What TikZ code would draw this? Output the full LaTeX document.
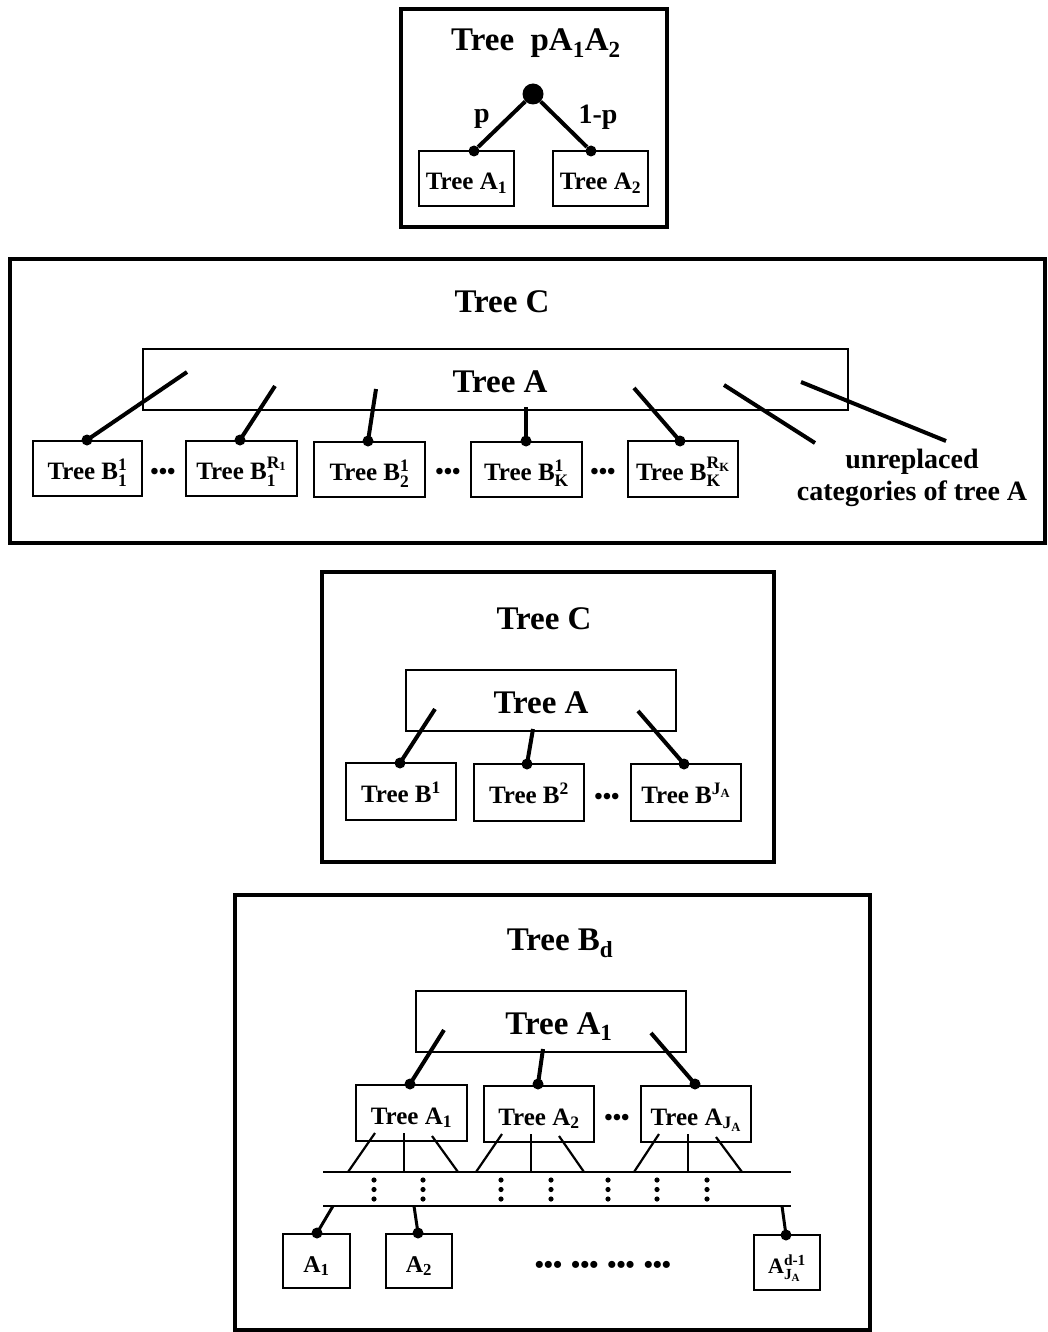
\documentclass[tikz,border=0pt]{standalone}
\usepackage{amsmath}
\usepackage{fontspec}
\setmainfont{Liberation Serif}
\begin{document}
\begin{tikzpicture}[x=1pt,y=-1pt,
  frame/.style={draw, line width=3.5pt},
  bigbox/.style={draw, line width=1.6pt, inner sep=0pt, text height=27pt, text depth=2pt, font=\bfseries\fontsize{33}{36}\selectfont},
  smallbox/.style={draw, line width=1.8pt, inner sep=0pt, text height=23pt, text depth=1pt, font=\bfseries\fontsize{25}{28}\selectfont},
  conn/.style={line width=4pt},
  thin/.style={line width=2.2pt},
  dot/.style={circle, fill, inner sep=0pt, minimum size=11pt},
  title/.style={inner sep=0pt, text height=27pt, text depth=2pt, font=\bfseries\fontsize{33}{36}\selectfont},
  lab/.style={inner sep=0pt, text height=20pt, text depth=4pt, font=\bfseries\fontsize{28}{32}\selectfont},
  ell/.style={font=\bfseries\fontsize{24}{26}\selectfont, inner sep=0pt, yshift=-4pt}]
\useasboundingbox (0,0) rectangle (1047,1332);

% ---------- Panel 1 ----------
\draw[frame] (401,9) rectangle (667,227);
\node[title] (t1) at (536,38) {Tree\hspace{0.5em}pA\textsubscript{1}A\textsubscript{2}};
\node[smallbox, minimum width=95pt, minimum height=55pt] (pa1) at (466.5,178.5) {Tree A\textsubscript{1}};
\node[smallbox, minimum width=95pt, minimum height=55pt] (pa2) at (600.5,178.5) {Tree A\textsubscript{2}};
\node[circle, fill, inner sep=0pt, minimum size=21pt] (root) at (533,94) {};
\node[dot] (pd1) at (474,151) {};
\node[dot] (pd2) at (591,151) {};
\draw[conn] (root) -- (pd1);
\draw[conn] (root) -- (pd2);
\node[lab] (lp) at (482,115) {p};
\node[lab] (lq) at (598,116) {1-p};

% ---------- Panel 2 ----------
\draw[frame] (10,259) rectangle (1045,543);
\node[title] (t2) at (502,300) {Tree C};
\node[bigbox, minimum width=705pt, minimum height=61pt] (ta2) at (495.5,379.5) {\hspace{9pt}Tree A};
\node[smallbox, minimum width=109pt, minimum height=55pt] (b1) at (87.5,468.5) {Tree B$^{\text{1}}_{\text{1}}$};
\node[smallbox, minimum width=111pt, minimum height=55pt] (b2) at (241.5,468.5) {Tree B$^{\text{R}_{\text{1}}}_{\text{1}}$};
\node[smallbox, minimum width=111pt, minimum height=55pt] (b3) at (369.5,469.5) {Tree B$^{\text{1}}_{\text{2}}$};
\node[smallbox, minimum width=111pt, minimum height=55pt] (b4) at (526.5,469.5) {Tree B$^{\text{1}}_{\text{K}}$};
\node[smallbox, minimum width=110pt, minimum height=56pt] (b5) at (683,469) {Tree B$^{\text{R}_{\text{K}}}_{\text{K}}$};
\node[ell] (e21) at (163,470) {\textbullet\textbullet\textbullet};
\node[ell] (e22) at (448,470) {\textbullet\textbullet\textbullet};
\node[ell] (e23) at (603,470) {\textbullet\textbullet\textbullet};
\node[dot] (bd1) at (87,440) {};
\node[dot] (bd2) at (240,440) {};
\node[dot] (bd3) at (368,441) {};
\node[dot] (bd4) at (526,441) {};
\node[dot] (bd5) at (680,441) {};
\coordinate (bs1) at (187,372);
\coordinate (bs2) at (275,386);
\coordinate (bs3) at (376,389);
\coordinate (bs4) at (526,407);
\coordinate (bs5) at (634,388);
\draw[conn] (bs1) -- (bd1.center);
\draw[conn] (bs2) -- (bd2.center);
\draw[conn] (bs3) -- (bd3.center);
\draw[conn] (bs4) -- (bd4.center);
\draw[conn] (bs5) -- (bd5.center);
\coordinate (us1) at (724,385);
\coordinate (ue1) at (815,443);
\coordinate (us2) at (801,382);
\coordinate (ue2) at (946,441);
\draw[conn] (us1) -- (ue1);
\draw[conn] (us2) -- (ue2);
\node[font=\bfseries\fontsize{28}{32}\selectfont, align=center] (unr) at (912,478) {unreplaced\\categories of tree A};

% ---------- Panel 3 ----------
\draw[frame] (322,572) rectangle (774,862);
\node[title] (t3) at (544,617) {Tree C};
\node[bigbox, minimum width=270pt, minimum height=61pt] (ta3) at (541,700.5) {Tree A};
\node[smallbox, minimum width=110pt, minimum height=57pt] (c1) at (401,791.5) {Tree B\textsuperscript{1}};
\node[smallbox, minimum width=110pt, minimum height=57pt] (c2) at (529,792.5) {Tree B\textsuperscript{2}};
\node[smallbox, minimum width=110pt, minimum height=57pt] (c3) at (686,792.5) {Tree B$^{\text{J}_{\text{A}}}$};
\node[ell] (e31) at (607,795) {\textbullet\textbullet\textbullet};
\node[dot] (cd1) at (400,763) {};
\node[dot] (cd2) at (527,764) {};
\node[dot] (cd3) at (684,764) {};
\coordinate (cs1) at (435,709);
\coordinate (cs2) at (533,729);
\coordinate (cs3) at (638,711);
\draw[conn] (cs1) -- (cd1.center);
\draw[conn] (cs2) -- (cd2.center);
\draw[conn] (cs3) -- (cd3.center);

% ---------- Panel 4 ----------
\draw[frame] (235,895) rectangle (870,1330);
\node[title] (t4) at (560,938) {Tree B\textsubscript{d}};
\node[bigbox, minimum width=270pt, minimum height=61pt] (ta4) at (551,1021.5) {\hspace{16pt}Tree A\textsubscript{1}};
\node[smallbox, minimum width=111pt, minimum height=56pt] (m1) at (411.5,1113) {Tree A\textsubscript{1}};
\node[smallbox, minimum width=110pt, minimum height=56pt] (m2) at (539,1114) {Tree A\textsubscript{2}};
\node[smallbox, minimum width=110pt, minimum height=56pt] (m3) at (696,1114) {Tree A$_{\text{J}_{\text{A}}}$};
\node[ell] (e41) at (617,1116) {\textbullet\textbullet\textbullet};
\node[dot] (md1) at (410,1084) {};
\node[dot] (md2) at (538,1084) {};
\node[dot] (md3) at (695,1084) {};
\coordinate (ms1) at (444,1030);
\coordinate (ms2) at (543,1049);
\coordinate (ms3) at (651,1033);
\draw[conn] (ms1) -- (md1.center);
\draw[conn] (ms2) -- (md2.center);
\draw[conn] (ms3) -- (md3.center);
% level lines
\coordinate (l1a) at (323,1172);
\coordinate (l1b) at (791,1172);
\coordinate (l2a) at (323,1206);
\coordinate (l2b) at (791,1206);
\draw[thin] (l1a) -- (l1b);
\draw[thin] (l2a) -- (l2b);
% branches
\draw[thin] (375,1133) -- (348,1172);
\draw[thin] (404,1133) -- (404,1172);
\draw[thin] (432,1136) -- (458,1172);
\draw[thin] (502,1134) -- (476,1172);
\draw[thin] (531,1134) -- (531,1172);
\draw[thin] (559,1136) -- (584,1172);
\draw[thin] (659,1134) -- (634,1172);
\draw[thin] (688,1134) -- (688,1172);
\draw[thin] (716,1137) -- (742,1172);
% vertical dots
\foreach \xx in {374,423,501,551,608,657,707}
  \foreach \yy in {1180,1189.5,1199}
    \fill (\xx,\yy) circle (2.6);
% bottom boxes
\node[smallbox, minimum width=67pt, minimum height=54pt, font=\bfseries\fontsize{24}{27}\selectfont] (n1) at (316.5,1261) {A\textsubscript{1}};
\node[smallbox, minimum width=66pt, minimum height=54pt, font=\bfseries\fontsize{24}{27}\selectfont] (n2) at (419,1261) {A\textsubscript{2}};
\node[smallbox, minimum width=66pt, minimum height=55pt, font=\bfseries\fontsize{22}{25}\selectfont] (n3) at (787,1262.5) {A$^{\text{d-1}}_{\text{J}_{\text{A}}}$};
\node[dot] (nd1) at (317,1233) {};
\node[dot] (nd2) at (418,1233) {};
\node[dot] (nd3) at (786,1235) {};
\coordinate (ns1) at (333,1206);
\coordinate (ns2) at (414,1206);
\coordinate (ns3) at (782,1206);
\draw[conn, line width=3pt] (ns1) -- (nd1.center);
\draw[conn, line width=3pt] (ns2) -- (nd2.center);
\draw[conn, line width=3pt] (ns3) -- (nd3.center);
\node[font=\bfseries\fontsize{26}{28}\selectfont, inner sep=0pt] (e42) at (603,1267) {\textbullet\textbullet\textbullet\hspace{9pt}\textbullet\textbullet\textbullet\hspace{9pt}\textbullet\textbullet\textbullet\hspace{9pt}\textbullet\textbullet\textbullet};
\end{tikzpicture}
\end{document}
